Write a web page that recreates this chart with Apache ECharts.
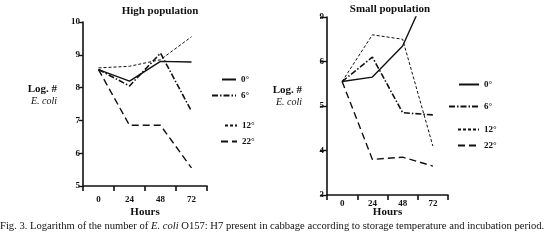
<!DOCTYPE html>
<html>
<head>
<meta charset="utf-8">
<script src="https://cdn.jsdelivr.net/npm/echarts@6/dist/echarts.min.js"></script>
<style>
  html, body { margin: 0; padding: 0; background: #fff; }
  #chart { width: 548px; height: 244px; }
</style>
</head>
<body>
<div id="chart"></div>
<script>
// hours of incubation
const hours = ['0', '24', '48', '72'];
const temps = ['0°', '6°', '12°', '22°'];

// High population (log #)
const high0 = [8.55, 8.2, 8.8, 8.78];
const high6 = [8.55, 8.05, 9.05, 7.28];
const high12 = [8.6, 8.65, 8.85, 9.55];
const high22 = [8.55, 6.85, 6.85, 5.55];

// Small population (log #)
const small0 = [5.55, 5.65, 6.35, 7.85];
const small6 = [5.55, 6.1, 4.85, 4.8];
const small12 = [5.55, 6.6, 6.5, 4.1];
const small22 = [5.55, 3.8, 3.85, 3.65];

// top tick of the small panel is printed as "9" in the original
const smallTickLabels = { 3: '3', 4: '4', 5: '5', 6: '6', 7: '9' };

const serif = 'Liberation Serif';
const chart = echarts.init(document.getElementById('chart'));

const styles = {
  '0°': { type: 'solid', width: 1.4 },
  '6°': { type: [6, 2, 1.5, 2], width: 1.6 },
  '12°': { type: [3, 2], width: 1 },
  '22°': { type: [7, 4], width: 1.4 }
};

const mkSeries = (name, data, idx) => ({
  name: name,
  type: 'line',
  xAxisIndex: idx,
  yAxisIndex: idx,
  data: data,
  symbol: 'none',
  lineStyle: Object.assign({ color: '#111' }, styles[name]),
  itemStyle: { color: '#111' },
  animation: false
});

const xAxisBase = (idx) => ({
  type: 'category',
  gridIndex: idx,
  data: hours,
  boundaryGap: true,
  name: 'Hours',
  nameLocation: 'middle',
  nameGap: idx === 0 ? 21 : 12,
  nameMoveOverlap: false,
  nameTextStyle: { fontFamily: serif, fontWeight: 'bold', fontSize: 11, color: '#111' },
  axisLine: { lineStyle: { color: '#111', width: 1.6 } },
  axisTick: { show: true, length: 5, lineStyle: { color: '#111', width: 1.6 } },
  axisLabel: { fontFamily: serif, fontWeight: 'bold', fontSize: 9, color: '#111', margin: idx === 0 ? 9 : 4 }
});

const yName = {
  a: { fontFamily: serif, fontWeight: 'bold', fontSize: 11, color: '#111', lineHeight: 12 },
  b: { fontFamily: serif, fontStyle: 'italic', fontSize: 10, color: '#111', lineHeight: 11 }
};

const yAxisBase = (idx, min, max, fmt, gap, shift) => ({
  type: 'value',
  gridIndex: idx,
  min: min,
  max: max,
  interval: 1,
  name: '{a|Log. #}\n{b|E. coli}',
  nameLocation: 'middle',
  nameRotate: 0,
  nameGap: gap,
  nameTextStyle: { rich: yName, padding: [0, 0, shift, 0] },
  splitLine: { show: false },
  axisLine: { show: true, lineStyle: { color: '#111', width: 1.6 } },
  axisTick: { show: true, length: idx === 0 ? 4 : 7, lineStyle: { color: '#111', width: 1.4 } },
  axisLabel: { fontFamily: serif, fontWeight: 'bold', fontSize: 9, color: '#111', margin: 3, formatter: fmt }
});

// one legend per row so the uneven spacing can be kept
const legendRows = [
  // [name, right edge of icon, centre y, icon width]
  ['0°', 235, 81, 14], ['6°', 235, 97, 24], ['12°', 236, 127, 12], ['22°', 236, 143, 16],
  ['0°', 478, 86, 20], ['6°', 478, 108, 30], ['12°', 478, 131, 21], ['22°', 478, 147, 21]
];

const option = {
  backgroundColor: '#fff',
  animation: false,
  title: [
    { text: 'High population', left: 155, top: 1, textAlign: 'center',
      textStyle: { fontFamily: serif, fontWeight: 'bold', fontSize: 11, color: '#111' } },
    { text: 'Small population', left: 385, top: -1, textAlign: 'center',
      textStyle: { fontFamily: serif, fontWeight: 'bold', fontSize: 11, color: '#111' } },
    { text: '{n|Fig. 3. Logarithm of the number of }{i|E. coli}{n| O157: H7 present in cabbage according to storage temperature and incubation period.}',
      left: 0, top: 221, padding: 0,
      textStyle: { fontWeight: 'normal', rich: {
        n: { fontFamily: serif, fontSize: 10.6, fontWeight: 'normal', color: '#111' },
        i: { fontFamily: serif, fontSize: 10.6, fontWeight: 'normal', fontStyle: 'italic', color: '#111' }
      } } }
  ],
  legend: legendRows.map(([name, right, cy, w]) => ({
    data: [name],
    left: right - w,
    top: cy - 6,
    padding: 0,
    itemWidth: w,
    itemHeight: 10,
    itemGap: 5,
    selectedMode: false,
    itemStyle: { opacity: 0 },
    textStyle: { fontFamily: serif, fontWeight: 'bold', fontSize: 9, color: '#111' }
  })),
  grid: [
    { left: 83, top: 22, width: 124, height: 164 },
    { left: 327, top: 17, width: 121, height: 178 }
  ],
  xAxis: [xAxisBase(0), xAxisBase(1)],
  yAxis: [
    yAxisBase(0, 5, 10, null, 26, 18),
    yAxisBase(1, 3, 7, (v) => smallTickLabels[v], 25, 20)
  ],
  series: [
    mkSeries('0°', high0, 0),
    mkSeries('6°', high6, 0),
    mkSeries('12°', high12, 0),
    mkSeries('22°', high22, 0),
    mkSeries('0°', small0, 1),
    mkSeries('6°', small6, 1),
    mkSeries('12°', small12, 1),
    mkSeries('22°', small22, 1)
  ]
};

chart.setOption(option);
window.addEventListener('resize', () => chart.resize());
</script>
</body>
</html>
